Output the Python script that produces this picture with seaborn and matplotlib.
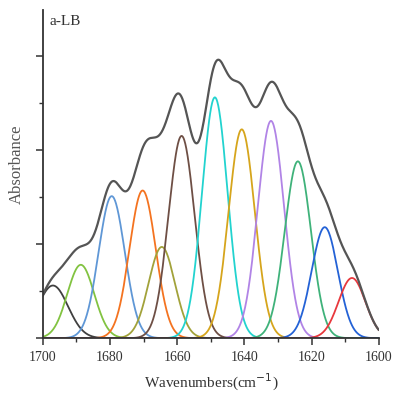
import numpy as np
import pandas as pd
import matplotlib
matplotlib.use("Agg")
import matplotlib.pyplot as plt
import seaborn as sns
from matplotlib.ticker import MultipleLocator

# Fitted component bands (a-LB amide I deconvolution)
centers = [1697.0, 1688.7, 1679.5, 1670.3, 1664.6, 1658.7, 1648.8, 1640.8, 1632.1, 1624.1, 1616.1, 1608.0]
heights = [0.056, 0.078, 0.151, 0.157, 0.097, 0.215, 0.256, 0.222, 0.231, 0.188, 0.118, 0.064]
sigmas = [4.5, 4.0, 3.9, 3.9, 3.9, 3.9, 3.8, 3.9, 3.9, 3.9, 3.9, 4.0]
colors = ["#404040", "#82c341", "#5f97d6", "#f47320", "#a2a23a", "#6e4f45",
          "#22d3cf", "#d6a51c", "#b184e6", "#3fb27a", "#2462d6", "#e8383d"]
xticks = [1700, 1680, 1660, 1640, 1620, 1600]

sns.set_style("ticks")
plt.rcParams["font.family"] = ["Liberation Serif", "DejaVu Serif"]

wn = np.linspace(1600, 1700, 1001)
rows = []
total = np.zeros_like(wn)
for i, (c, h, s) in enumerate(zip(centers, heights, sigmas)):
    y = h * np.exp(-(wn - c) ** 2 / (2 * s ** 2))
    total += y
    rows.append(pd.DataFrame({"wn": wn, "abs": y, "band": f"b{i}"}))
df = pd.concat(rows, ignore_index=True)
env = pd.DataFrame({"wn": wn, "abs": total})

fig = plt.figure(figsize=(3.93, 3.96), dpi=100)
ax = fig.add_axes([0.109, 0.146, 0.855, 0.829])

sns.lineplot(data=df, x="wn", y="abs", hue="band", palette=colors, lw=1.3,
             legend=False, ax=ax, sort=True)
sns.lineplot(data=env, x="wn", y="abs", color="#555555", lw=1.6, ax=ax)

ax.set_xlim(1700, 1600)
ax.set_ylim(0, 0.349)
ax.set_xticks(xticks)
ax.xaxis.set_minor_locator(MultipleLocator(10))
ax.yaxis.set_major_locator(MultipleLocator(0.1))
ax.yaxis.set_minor_locator(MultipleLocator(0.05))
ax.set_yticklabels([])
ax.tick_params(axis="both", which="major", direction="out", length=5, width=1.1, color="#333333")
ax.tick_params(axis="both", which="minor", direction="out", length=3, width=1.0, color="#333333")
ax.tick_params(axis="x", labelsize=10, pad=4, labelcolor="#333333")
for sp in ["top", "right"]:
    ax.spines[sp].set_visible(False)
for sp in ["left", "bottom"]:
    ax.spines[sp].set_linewidth(1.3)
    ax.spines[sp].set_color("#333333")

ax.set_xlabel("Wavenumbers(cm$^{-1}$)", fontsize=11, labelpad=6, color="#333333")
ax.set_ylabel("Absorbance", fontsize=12, color="#555555")
ax.yaxis.set_label_coords(-0.055, 0.53)
ax.text(0.02, 0.985, "a-LB", transform=ax.transAxes, fontsize=11, va="top", ha="left", color="#333333")

fig.savefig("out.png", dpi=100)
